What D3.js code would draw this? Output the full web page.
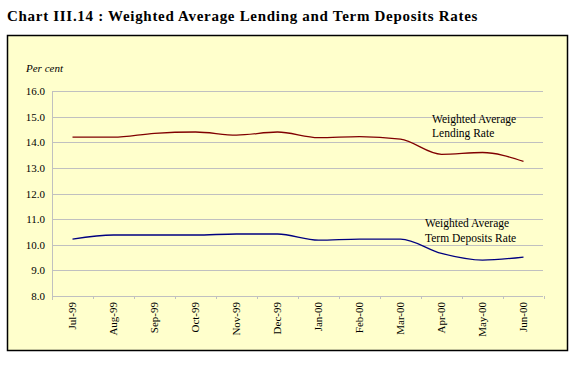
<!DOCTYPE html>
<html>
<head>
<meta charset="utf-8">
<script src="https://cdn.jsdelivr.net/npm/d3@7"></script>
<style>
  body { margin: 0; background: #fff; }
</style>
</head>
<body>
<script>
var width = 585,
    height = 372;

var months = ['Jul-99', 'Aug-99', 'Sep-99', 'Oct-99', 'Nov-99', 'Dec-99',
              'Jan-00', 'Feb-00', 'Mar-00', 'Apr-00', 'May-00', 'Jun-00'];
var lending = [14.2, 14.2, 14.35, 14.4, 14.28, 14.4, 14.18, 14.22, 14.12, 13.53, 13.6, 13.25];
var deposits = [10.22, 10.38, 10.38, 10.38, 10.42, 10.42, 10.18, 10.22, 10.22, 9.66, 9.4, 9.52];
var yTicks = [8, 9, 10, 11, 12, 13, 14, 15, 16];

var svg = d3.select('body').append('svg')
  .attr('width', width)
  .attr('height', height)
  .attr('font-family', '"Liberation Serif", "Times New Roman", serif');

// title
svg.append('text')
  .attr('x', 7)
  .attr('y', 21)
  .attr('font-size', '15px')
  .attr('font-weight', 'bold')
  .attr('letter-spacing', '0.7px')
  .text('Chart III.14 : Weighted Average Lending and Term Deposits Rates');

// chart box
svg.append('rect')
  .attr('x', 7.5)
  .attr('y', 35.5)
  .attr('width', 560)
  .attr('height', 315)
  .attr('fill', '#ffffcc')
  .attr('stroke', '#000')
  .attr('stroke-width', 1.5);

var x = d3.scaleBand().domain(months).range([52, 544]);
var y = d3.scaleLinear().domain([8, 16]).range([296, 91]);

// gridlines
svg.selectAll('line.grid')
  .data(yTicks)
  .enter()
  .append('line')
  .attr('class', 'grid')
  .attr('x1', 52)
  .attr('x2', 543)
  .attr('y1', function(d) { return Math.round(y(d)) + 0.5; })
  .attr('y2', function(d) { return Math.round(y(d)) + 0.5; })
  .attr('stroke', '#c0c0c0');

// y axis line
svg.append('line')
  .attr('x1', 52.5).attr('x2', 52.5)
  .attr('y1', y(16)).attr('y2', y(8) + 4)
  .attr('stroke', '#c0c0c0');

// x tick marks at band edges
svg.selectAll('line.xtick')
  .data(months)
  .enter()
  .append('line')
  .attr('class', 'xtick')
  .attr('x1', function(d) { return Math.round(x(d) + x.bandwidth()) + 0.5; })
  .attr('x2', function(d) { return Math.round(x(d) + x.bandwidth()) + 0.5; })
  .attr('y1', Math.round(y(8)))
  .attr('y2', Math.round(y(8)) + 3)
  .attr('stroke', '#c0c0c0');

// y labels
svg.selectAll('text.ylab')
  .data(yTicks)
  .enter()
  .append('text')
  .attr('class', 'ylab')
  .attr('x', 45)
  .attr('y', function(d) { return y(d) + 4; })
  .attr('text-anchor', 'end')
  .attr('font-size', '11px')
  .text(function(d) { return d.toFixed(1); });

svg.append('text')
  .attr('x', 26)
  .attr('y', 72)
  .attr('font-size', '11px')
  .attr('font-style', 'italic')
  .text('Per cent');

// x labels
svg.selectAll('text.xlab')
  .data(months)
  .enter()
  .append('text')
  .attr('class', 'xlab')
  .attr('transform', function(d) {
    return 'translate(' + (x(d) + x.bandwidth() / 2 + 3.5) + ',' + 302 + ') rotate(-90)';
  })
  .attr('text-anchor', 'end')
  .attr('font-size', '11px')
  .text(function(d) { return d; });

var line = d3.line()
  .x(function(d, i) { return x(months[i]) + x.bandwidth() / 2; })
  .y(function(d) { return y(d); })
  .curve(d3.curveMonotoneX);

svg.append('path')
  .datum(lending)
  .attr('d', line)
  .attr('fill', 'none')
  .attr('stroke', '#800000')
  .attr('stroke-width', 1.3);

svg.append('path')
  .datum(deposits)
  .attr('d', line)
  .attr('fill', 'none')
  .attr('stroke', '#000080')
  .attr('stroke-width', 1.3);

// annotations
var notes = [
  { x: 432, y: 123, t: 'Weighted Average' },
  { x: 432, y: 137, t: 'Lending Rate' },
  { x: 425, y: 227, t: 'Weighted Average' },
  { x: 425, y: 242, t: 'Term Deposits Rate' }
];
svg.selectAll('text.note')
  .data(notes)
  .enter()
  .append('text')
  .attr('class', 'note')
  .attr('x', function(d) { return d.x; })
  .attr('y', function(d) { return d.y; })
  .attr('font-size', '11.5px')
  .text(function(d) { return d.t; });
</script>
</body>
</html>
